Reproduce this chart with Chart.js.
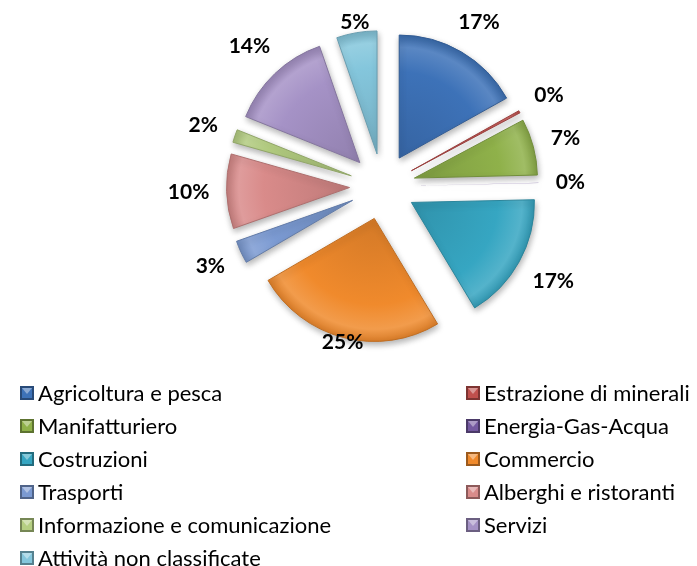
<!DOCTYPE html>
<html>
<head>
<meta charset="utf-8">
<script src="https://cdn.jsdelivr.net/npm/chart.js@4.4.0/dist/chart.umd.min.js"></script>
<style>
html, body { margin: 0; padding: 0; background: #fff; }
</style>
</head>
<body>
<canvas id="settori-chart" width="697" height="566"></canvas>
<script>
'use strict';

var SETTORI = ['Agricoltura e pesca', 'Estrazione di minerali', 'Manifatturiero', 'Energia-Gas-Acqua',
	'Costruzioni', 'Commercio', 'Trasporti', 'Alberghi e ristoranti',
	'Informazione e comunicazione', 'Servizi', 'Attività non classificate'];
var QUOTE = [16.9, 0.3, 7.4, 0.05, 16.75, 25.2, 3.0, 9.8, 1.7, 13.6, 5.3];
var COLORI = ['#3d72b8', '#c0504d', '#8fb14a', '#7459a0', '#36a6c2', '#f08a2c',
	'#7b9ad2', '#d98b8a', '#b5cf82', '#a592c6', '#84c6dc'];

var RAGGIO = 123;
var ESPLOSO = 33;

// mix a colour with white (p > 0) or black (p < 0)
function shade(hex, p) {
	var n = parseInt(hex.slice(1), 16);
	var rgb = [(n >> 16) & 255, (n >> 8) & 255, n & 255];
	var t = p < 0 ? 0 : 255, a = Math.abs(p);
	return 'rgb(' + rgb.map(function (c) { return Math.round(c + (t - c) * a); }).join(',') + ')';
}

var esplosoPlugin = {
	id: 'esploso',
	beforeDatasetDraw: function (chart, args) {
		var ctx = chart.ctx;
		args.meta.data.forEach(function (arc) {
			var mid = (arc.startAngle + arc.endAngle) / 2;
			ctx.save();
			ctx.translate(Math.cos(mid) * ESPLOSO, Math.sin(mid) * ESPLOSO);
			ctx.shadowColor = 'rgba(0,0,0,0.3)';
			ctx.shadowBlur = 6;
			ctx.shadowOffsetX = 1;
			ctx.shadowOffsetY = 3;
			arc.draw(ctx);
			ctx.restore();
		});
		return false;
	}
};

// percent labels outside each slice, pulled in when they would leave the plot
var etichettePlugin = {
	id: 'etichette',
	afterDatasetsDraw: function (chart) {
		var ctx = chart.ctx;
		var meta = chart.getDatasetMeta(0);
		var totale = QUOTE.reduce(function (a, b) { return a + b; }, 0);
		var alto = 14, basso = 350;
		ctx.save();
		ctx.font = 'bold 21px Lato';
		ctx.fillStyle = '#000';
		ctx.textAlign = 'center';
		ctx.textBaseline = 'middle';
		meta.data.forEach(function (arc, i) {
			var testo = Math.round(QUOTE[i] / totale * 100) + '%';
			var mid = (arc.startAngle + arc.endAngle) / 2;
			var c = Math.cos(mid), s = Math.sin(mid);
			var w = ctx.measureText(testo).width, h = 16;
			var ext = Math.abs(c) * w / 2 + Math.abs(s) * h / 2;
			var r = arc.outerRadius + ESPLOSO + 17 + ext;
			if (s < 0) r = Math.min(r, (arc.y - h / 2 - alto) / -s);
			if (s > 0) r = Math.min(r, (basso - h / 2 - arc.y) / s);
			ctx.fillText(testo, arc.x + c * r, arc.y + s * r);
		});
		ctx.restore();
	}
};

var legendaPlugin = {
	id: 'legenda',
	afterDraw: function (chart) {
		var ctx = chart.ctx;
		ctx.save();
		ctx.font = '22px Lato';
		ctx.textBaseline = 'middle';
		SETTORI.forEach(function (nome, i) {
			var col = i % 2, riga = Math.floor(i / 2);
			var x = col === 0 ? 20 : 466;
			var y = 393 + riga * 33;
			var q = 14, top = y - 7;
			var base = COLORI[i];
			ctx.fillStyle = shade(base, -0.35);
			ctx.fillRect(x, top, q, q);
			ctx.fillStyle = base;
			ctx.fillRect(x + 2, top + 2, q - 4, q - 4);
			ctx.fillStyle = shade(base, 0.4);
			ctx.beginPath();
			ctx.moveTo(x + 2, top + 2);
			ctx.lineTo(x + q - 2, top + 2);
			ctx.lineTo(x + q / 2, top + q / 2 + 1);
			ctx.closePath();
			ctx.fill();
			ctx.fillStyle = '#000';
			ctx.fillText(nome, x + q + 4, y + 1);
		});
		ctx.restore();
	}
};

var ctx = document.getElementById('settori-chart').getContext('2d');
new Chart(ctx, {
	type: 'pie',
	data: {
		labels: SETTORI,
		datasets: [{
			data: QUOTE,
			radius: RAGGIO,
			borderWidth: function (context) {
				return QUOTE[context.dataIndex] < 0.2 ? 0 : 1;
			},
			borderColor: COLORI.map(function (c) { return shade(c, -0.2); }),
			backgroundColor: function (context) {
				var base = COLORI[context.dataIndex];
				var area = context.chart.chartArea;
				if (!area) return base;
				var cx = (area.left + area.right) / 2, cy = (area.top + area.bottom) / 2;
				var g = context.chart.ctx.createRadialGradient(cx, cy, 0, cx, cy, RAGGIO);
				g.addColorStop(0, shade(base, -0.12));
				g.addColorStop(0.7, base);
				g.addColorStop(0.9, shade(base, 0.15));
				g.addColorStop(1, shade(base, -0.1));
				return g;
			}
		}]
	},
	options: {
		responsive: false,
		animation: false,
		layout: { padding: { left: 68, bottom: 193 } },
		plugins: {
			legend: { display: false },
			tooltip: { enabled: false }
		}
	},
	plugins: [esplosoPlugin, etichettePlugin, legendaPlugin]
});
</script>
</body>
</html>
